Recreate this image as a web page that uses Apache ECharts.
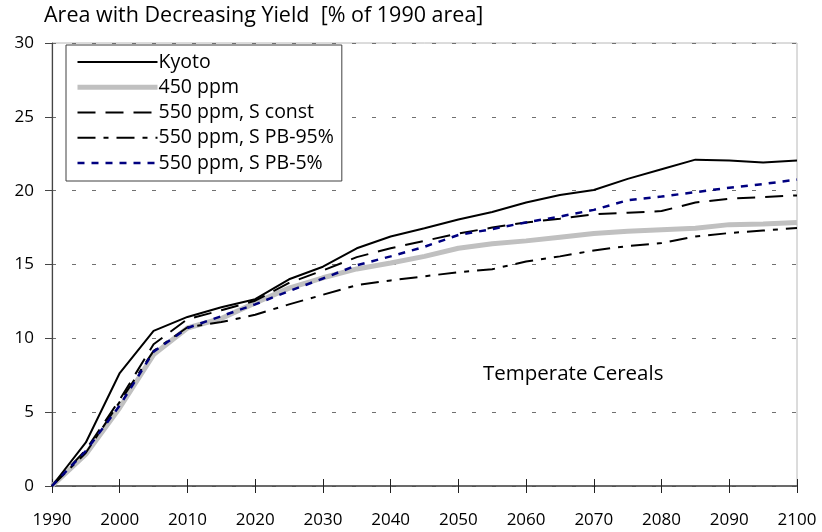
<!DOCTYPE html>
<html>
<head>
<meta charset="utf-8">
<script src="https://cdn.jsdelivr.net/npm/echarts@6/dist/echarts.min.js"></script>
<style>
  html, body { margin: 0; padding: 0; background: #fff; }
  #main { width: 822px; height: 532px; }
</style>
</head>
<body>
<div id="main"></div>
<script>
// years every 5 from 1990 to 2100
var years = [1990, 1995, 2000, 2005, 2010, 2015, 2020, 2025, 2030, 2035, 2040, 2045,
             2050, 2055, 2060, 2065, 2070, 2075, 2080, 2085, 2090, 2095, 2100];

var kyoto   = [0, 2.95, 7.65, 10.5, 11.45, 12.1, 12.65, 14.0, 14.85, 16.1, 16.9, 17.45,
               18.05, 18.55, 19.2, 19.7, 20.05, 20.8, 21.45, 22.1, 22.05, 21.9, 22.05];
var ppm450  = [0, 2.15, 5.3, 8.9, 10.7, 11.35, 12.4, 13.4, 14.1, 14.7, 15.1, 15.55,
               16.1, 16.4, 16.6, 16.85, 17.1, 17.25, 17.35, 17.45, 17.7, 17.75, 17.85];
var sConst  = [0, 2.45, 5.85, 9.6, 11.3, 11.9, 12.55, 13.75, 14.6, 15.5, 16.1, 16.6,
               17.1, 17.5, 17.85, 18.1, 18.4, 18.5, 18.62, 19.2, 19.45, 19.57, 19.68];
var sPB95   = [0, 2.25, 5.7, 9.15, 10.75, 11.1, 11.6, 12.3, 12.95, 13.6, 13.92, 14.2,
               14.48, 14.68, 15.2, 15.55, 15.95, 16.25, 16.45, 16.9, 17.13, 17.3, 17.47];
var sPB5    = [0, 2.38, 5.45, 9.1, 10.7, 11.5, 12.3, 13.2, 14.05, 14.95, 15.55, 16.2,
               17.0, 17.4, 17.85, 18.25, 18.7, 19.35, 19.6, 19.9, 20.2, 20.45, 20.75];

var seriesNames = ['Kyoto', '450 ppm', '550 ppm, S const', '550 ppm, S PB-95%', '550 ppm, S PB-5%'];

var FONT = 'Open Sans';

function pairs(vals) {
  return years.map(function (y, i) { return [y, vals[i]]; });
}

function lineSeries(name, vals, style) {
  return {
    name: name,
    type: 'line',
    data: pairs(vals),
    symbol: 'none',
    lineStyle: style,
    itemStyle: { color: style.color },
    z: style.z || 2
  };
}

var chart = echarts.init(document.getElementById('main'));

var option = {
  animation: false,
  backgroundColor: '#fff',
  title: {
    text: 'Area with Decreasing Yield  [% of 1990 area]',
    left: 39,
    top: 0,
    textStyle: { fontFamily: FONT, fontSize: 21.5, fontWeight: 'normal', color: '#000' }
  },
  grid: {
    left: 52, right: 25, top: 43, bottom: 46,
    show: true,
    borderColor: '#b8b8b8',
    borderWidth: 1
  },
  legend: {
    orient: 'vertical',
    left: 66,
    top: 45,
    padding: [7, 8, 8, 9],
    itemWidth: 80,
    itemHeight: 14,
    itemGap: 5.25,
    backgroundColor: '#fff',
    borderColor: '#404040',
    borderWidth: 1,
    z: 10,
    itemStyle: { opacity: 0 },
    lineStyle: { width: 'inherit', type: 'inherit' },
    data: seriesNames,
    textStyle: { fontFamily: FONT, fontSize: 19.5, lineHeight: 20, color: '#000', padding: [0, 0, 0, -4] }
  },
  xAxis: [{
    type: 'value',
    min: 1990, max: 2100, interval: 10,
    axisLine: { show: true, lineStyle: { color: '#454545', width: 1.5 } },
    axisTick: { show: true, inside: false, length: 7, lineStyle: { color: '#222', width: 1 } },
    axisLabel: {
      margin: 26, fontFamily: FONT, fontSize: 17, color: '#000',
      formatter: function (v) { return String(v); }
    },
    splitLine: { show: false }
  }, {
    type: 'value',
    position: 'bottom',
    gridIndex: 0,
    min: 1990, max: 2100, interval: 10,
    axisLine: { show: false },
    axisTick: { show: true, inside: true, length: 7, lineStyle: { color: '#222', width: 1 } },
    axisLabel: { show: false },
    splitLine: { show: false }
  }],
  yAxis: {
    type: 'value',
    min: 0, max: 30, interval: 5,
    axisLine: { show: true, lineStyle: { color: '#454545', width: 1.2 } },
    axisTick: { show: true, inside: false, length: 7, lineStyle: { color: '#454545', width: 1 } },
    axisLabel: { margin: 18, fontFamily: FONT, fontSize: 17, color: '#000' },
    splitLine: { show: true, lineStyle: { color: '#707070', width: 1, type: [4, 16] } }
  },
  graphic: [{
    type: 'text',
    left: 483,
    top: 364,
    style: { text: 'Temperate Cereals', font: '20.5px "Open Sans"', fill: '#000' }
  }],
  series: [
    lineSeries(seriesNames[1], ppm450, { color: '#c0c0c0', width: 5, type: 'solid', z: 1 }),
    lineSeries(seriesNames[0], kyoto, { color: '#000', width: 2, type: 'solid' }),
    lineSeries(seriesNames[2], sConst, { color: '#000', width: 2, type: [18, 10] }),
    lineSeries(seriesNames[3], sPB95, { color: '#000', width: 2, type: [18, 8, 5, 8] }),
    lineSeries(seriesNames[4], sPB5, { color: '#000080', width: 2.5, type: [7, 7] })
  ]
};

chart.setOption(option);
</script>
</body>
</html>
